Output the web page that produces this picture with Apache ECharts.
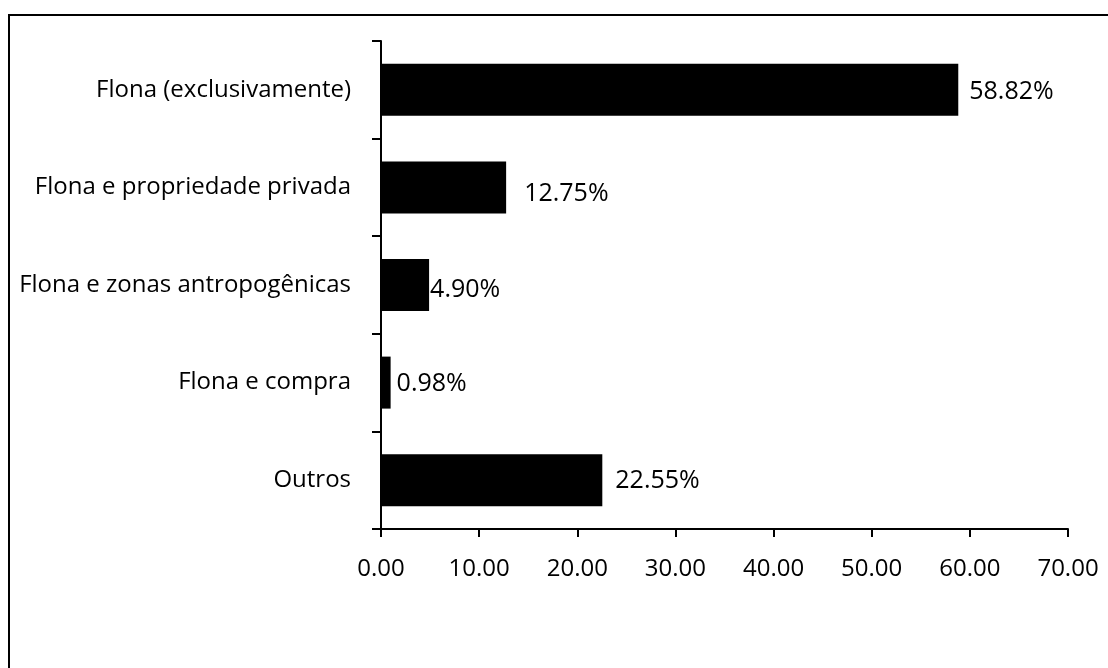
<!DOCTYPE html>
<html>
<head>
<meta charset="utf-8">
<style>
  html, body { margin: 0; padding: 0; background: #fff; }
  #chart { width: 1108px; height: 668px; }
</style>
<script src="https://cdn.jsdelivr.net/npm/echarts@6/dist/echarts.min.js"></script>
</head>
<body>
<div id="chart"></div>
<script>
// Categories, top to bottom
const categories = [
  'Flona (exclusivamente)',
  'Flona e propriedade privada',
  'Flona e zonas antropogênicas',
  'Flona e compra',
  'Outros'
];
// Share of respondents per category (%)
const shares = [58.82, 12.75, 4.90, 0.98, 22.55];
// Value-axis tick settings
const axisMin = 0;
const axisMax = 70;
const axisStep = 10;

// Per-bar label placement tweaks (gap from bar end, vertical nudge)
const labelGap = [11, 18, 1, 6, 13];
const labelNudge = [2, 6, 5, 1, 1];

const FONT = '"Open Sans"';
const AXIS_FONT_SIZE = 24;
const VALUE_FONT_SIZE = 25;

const chart = echarts.init(document.getElementById('chart'), null, { renderer: 'canvas' });

const option = {
  animation: false,
  backgroundColor: '#fff',
  textStyle: { fontFamily: FONT, color: '#000' },
  graphic: [{
    type: 'rect',
    shape: { x: 9, y: 15, width: 1300, height: 900 },
    style: { fill: 'none', stroke: '#000', lineWidth: 2 },
    silent: true
  }],
  grid: { left: 381, right: 40, top: 41, bottom: 139, containLabel: false },
  xAxis: {
    type: 'value',
    min: axisMin,
    max: axisMax,
    interval: axisStep,
    axisLine: { show: true, lineStyle: { color: '#000', width: 2 } },
    axisTick: { show: true, length: 8, lineStyle: { color: '#000', width: 2 } },
    splitLine: { show: false },
    axisLabel: {
      margin: 28,
      color: '#000',
      fontFamily: FONT,
      fontSize: AXIS_FONT_SIZE,
      formatter: v => v.toFixed(2)
    }
  },
  yAxis: {
    type: 'category',
    data: categories,
    inverse: true,
    axisLine: { show: true, lineStyle: { color: '#000', width: 2 } },
    axisTick: { show: true, length: 9, lineStyle: { color: '#000', width: 2 } },
    axisLabel: {
      margin: 30,
      color: '#000',
      fontFamily: FONT,
      fontSize: AXIS_FONT_SIZE
    },
    splitLine: { show: false }
  },
  series: [{
    type: 'bar',
    barWidth: 52,
    itemStyle: { color: '#000' },
    data: shares.map((v, i) => ({
      value: v,
      label: {
        show: true,
        position: 'right',
        distance: labelGap[i],
        offset: [0, labelNudge[i]],
        color: '#000',
        fontFamily: FONT,
        fontSize: VALUE_FONT_SIZE,
        formatter: p => p.value.toFixed(2) + '%'
      }
    }))
  }]
};

chart.setOption(option);
</script>
</body>
</html>
